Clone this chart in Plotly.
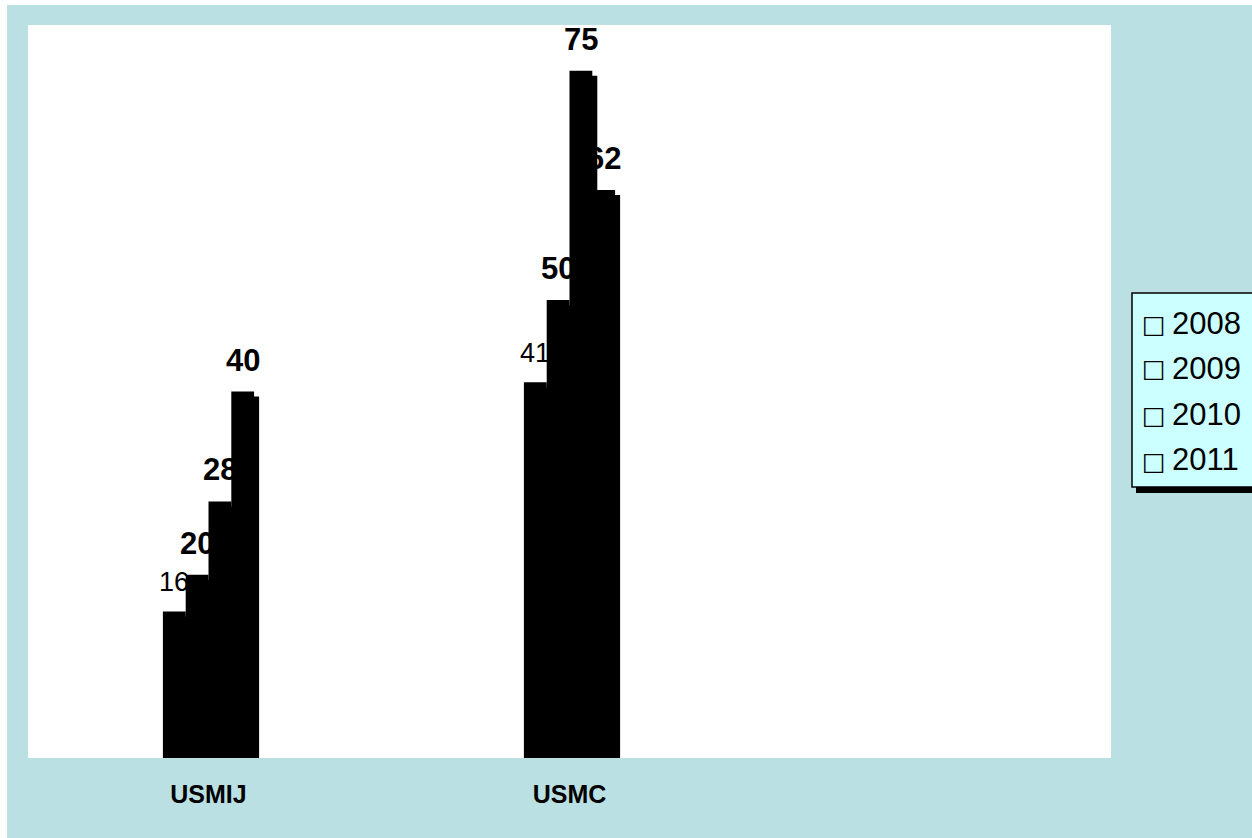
import plotly.graph_objects as go

# Data
categories = ["USMIJ", "USMC"]
years = ["2008", "2009", "2010", "2011"]
v2008 = [16, 41]
v2009 = [20, 50]
v2010 = [28, 75]
v2011 = [40, 62]
series = [v2008, v2009, v2010, v2011]
bold_labels = [False, True, True, True]

# Canvas geometry
W, H = 1252, 838
ML, MT, MR, MB = 28, 25, 141, 80
PW, PH = W - ML - MR, H - MT - MB
Y_MAX = 80
N_SLOTS = 3  # two used categories + empty slot on the right

BG = "#BBE0E3"
LEGEND_BG = "#CCFFFF"
FONT = "Arial, Liberation Sans, DejaVu Sans, sans-serif"

px_per_x = PW / N_SLOTS
px_per_y = PH / Y_MAX
bar_w = 22.8 / px_per_x
shadow_dx = 5 / px_per_x
shadow_dy = 5 / px_per_y


def paper_x(px):
    return (px - ML) / PW


def paper_y(py):
    return (H - MB - py) / PH


xs = list(range(len(categories)))
fig = go.Figure()
annotations = []

for i, (yr, vals) in enumerate(zip(years, series)):
    off = (i - 2) * bar_w
    # drop shadow behind each bar
    fig.add_trace(go.Bar(
        x=xs, y=vals, base=[-shadow_dy] * len(vals),
        offset=off + shadow_dx, width=bar_w,
        marker=dict(color="black", line=dict(width=0)),
        showlegend=False, hoverinfo="skip",
    ))
    fig.add_trace(go.Bar(
        x=xs, y=vals, name=yr,
        offset=off, width=bar_w,
        marker=dict(color="black", line=dict(width=0)),
        showlegend=False,
    ))
    for xi, v in zip(xs, vals):
        txt = f"<b>{v}</b>" if bold_labels[i] else str(v)
        annotations.append(dict(
            x=xi + off + bar_w / 2, y=v, xref="x", yref="y",
            text=txt, showarrow=False, yanchor="bottom", xanchor="center",
            yshift=12,
            font=dict(family=FONT, size=31 if bold_labels[i] else 27, color="black"),
        ))

# Legend drawn as a framed box with text entries
shapes = [
    # white edge strips at the top and left
    dict(type="rect", xref="paper", yref="paper",
         x0=paper_x(0), x1=paper_x(W), y0=paper_y(5), y1=paper_y(-2),
         fillcolor="white", line=dict(width=0), layer="above"),
    dict(type="rect", xref="paper", yref="paper",
         x0=paper_x(-2), x1=paper_x(7), y0=paper_y(H + 2), y1=paper_y(0),
         fillcolor="white", line=dict(width=0), layer="above"),
    # legend shadow
    dict(type="rect", xref="paper", yref="paper",
         x0=paper_x(1136), x1=paper_x(W + 10), y0=paper_y(493), y1=paper_y(297),
         fillcolor="black", line=dict(width=0), layer="above"),
    # legend box
    dict(type="rect", xref="paper", yref="paper",
         x0=paper_x(1132), x1=paper_x(W + 10), y0=paper_y(487), y1=paper_y(293),
         fillcolor=LEGEND_BG, line=dict(color="black", width=1.5), layer="above"),
]

row_y = [323, 368, 414, 460]
for yr, ry in zip(years, row_y):
    annotations.append(dict(
        x=paper_x(1140), y=paper_y(ry + 1), xref="paper", yref="paper",
        text="\u25a1", showarrow=False, xanchor="left", yanchor="middle",
        font=dict(family="DejaVu Sans", size=25, color="black"),
    ))
    annotations.append(dict(
        x=paper_x(1170), y=paper_y(ry), xref="paper", yref="paper",
        text=yr, showarrow=False, xanchor="left", yanchor="middle",
        font=dict(family=FONT, size=31, color="black"),
    ))

fig.update_layout(
    width=W, height=H,
    margin=dict(l=ML, r=MR, t=MT, b=MB, pad=0),
    paper_bgcolor=BG, plot_bgcolor="white",
    barmode="overlay",
    showlegend=False,
    xaxis=dict(
        range=[-0.5, N_SLOTS - 0.5], tickmode="array", tickvals=xs,
        ticktext=[f"<b>{c}</b>" for c in categories],
        tickfont=dict(family=FONT, size=25, color="black"),
        ticks="", showgrid=False, zeroline=False, showline=False,
        ticklabelstandoff=19, fixedrange=True,
    ),
    yaxis=dict(
        range=[0, Y_MAX], showticklabels=False, ticks="",
        showgrid=False, zeroline=False, showline=False, fixedrange=True,
    ),
    shapes=shapes,
    annotations=annotations,
)

fig.write_html("out.html")
